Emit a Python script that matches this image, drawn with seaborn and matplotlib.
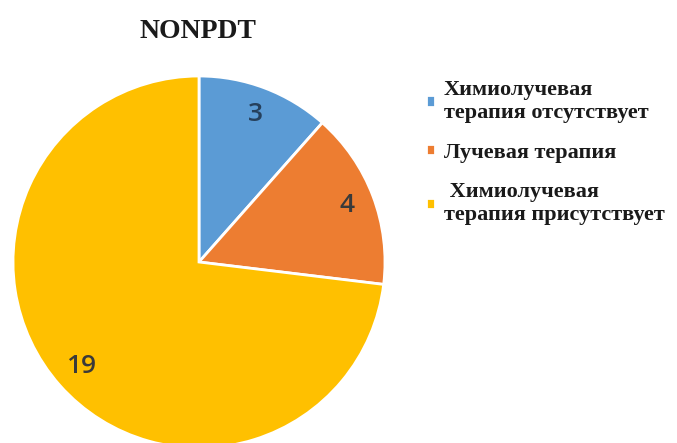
import matplotlib
matplotlib.use("Agg")
import matplotlib.pyplot as plt
import seaborn as sns

categories = ["Химиолучевая\nтерапия отсутствует", "Лучевая терапия", " Химиолучевая\nтерапия присутствует"]
values = [3, 4, 19]
colors = ["#5B9BD5", "#ED7D31", "#FFC000"]
title = "NONPDT"

sns.set_theme(style="white")
plt.rcParams['font.family'] = ['Liberation Serif', 'DejaVu Serif']

fig = plt.figure(figsize=(6.77, 4.43), dpi=100)
W, H = 677, 443
cx, cy, r = 199, 262, 186
ax = fig.add_axes([(cx - r) / W, (H - cy - r) / H, 2 * r / W, 2 * r / H])

wedges, texts, autotexts = ax.pie(
    values, colors=colors, startangle=90, counterclock=False,
    autopct=lambda p: f"{p * sum(values) / 100:.0f}", pctdistance=0.85,
    wedgeprops=dict(edgecolor="white", linewidth=2),
    textprops=dict(fontsize=19, family="Open Sans", fontweight="semibold",
                   color="#3a3a3a"))
autotexts[0].set_color("#26405c")
ax.set_xlim(-1, 1)
ax.set_ylim(-1, 1)
ax.set_aspect("equal")
ax.axis("off")

fig.text(198 / W, 1 - 32 / H, title, ha="center", va="center",
         fontsize=20, fontweight="bold", color="#1a1a1a")

leg = fig.legend(wedges, categories, loc="upper left",
                 bbox_to_anchor=(406 / W, 1 - 60 / H), frameon=False,
                 prop=dict(family="Liberation Serif", weight="bold", size=16),
                 handlelength=0.4, handleheight=0.4, handletextpad=0.4,
                 labelspacing=0.88)
for t in leg.get_texts():
    t.set_color("#1a1a1a")
    t.set_linespacing(1.2)

fig.savefig("out.png", dpi=100)
